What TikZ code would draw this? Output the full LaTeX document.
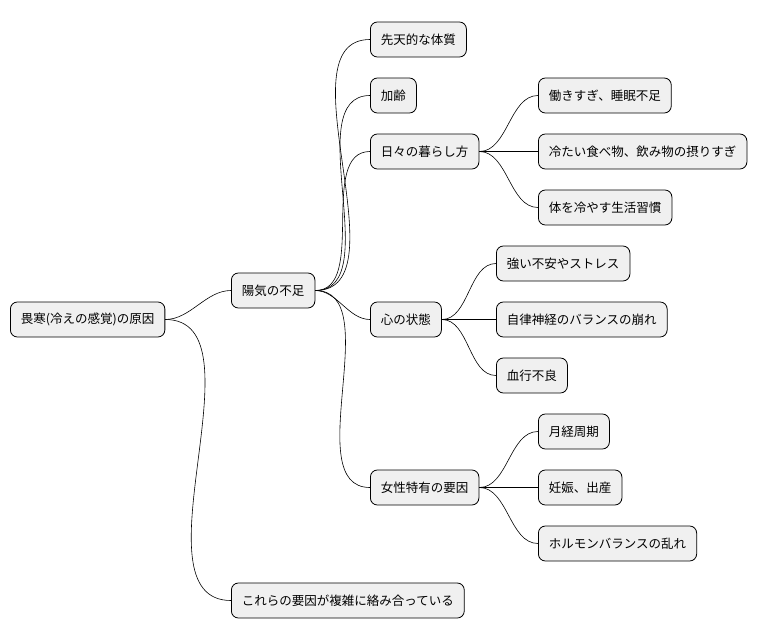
\documentclass[tikz,border=0pt]{standalone}
\usepackage{fontspec}
\setmainfont{Noto Sans CJK JP}
\begin{document}
\begin{tikzpicture}[x=1pt,y=-1pt,
  box/.style={draw=black,line width=0.8pt,fill=black!6,rounded corners=7pt,minimum height=35pt,inner xsep=10.5pt,anchor=west,font=\fontsize{12.5}{14}\selectfont},
  conn/.style={draw=black,line width=0.6pt,out=0,in=180,looseness=0.9}]
\useasboundingbox (0,0) rectangle (779,640);
\node[box] (r) at (10,319.5) {畏寒(冷えの感覚)の原因};
\node[box] (y) at (231,290.5) {陽気の不足};
\node[box] (k) at (231,600.5) {これらの要因が複雑に絡み合っている};
\node[box] (a1) at (370,39.5) {先天的な体質};
\node[box] (a2) at (370,95.5) {加齢};
\node[box] (a3) at (370,151.5) {日々の暮らし方};
\node[box] (a4) at (370,319.5) {心の状態};
\node[box] (a5) at (370,487.5) {女性特有の要因};
\node[box] (b1) at (538,95.5) {働きすぎ、睡眠不足};
\node[box] (b2) at (538,151.5) {冷たい食べ物、飲み物の摂りすぎ};
\node[box] (b3) at (538,207.5) {体を冷やす生活習慣};
\node[box] (c1) at (496,263.5) {強い不安やストレス};
\node[box] (c2) at (496,319.5) {自律神経のバランスの崩れ};
\node[box] (c3) at (496,375.5) {血行不良};
\node[box] (d1) at (538,431.5) {月経周期};
\node[box] (d2) at (538,487.5) {妊娠、出産};
\node[box] (d3) at (538,543.5) {ホルモンバランスの乱れ};
\foreach \p/\c in {r/y,r/k,y/a1,y/a2,y/a3,y/a4,y/a5,a3/b1,a3/b2,a3/b3,a4/c1,a4/c2,a4/c3,a5/d1,a5/d2,a5/d3}
  \draw[conn] (\p.east) to (\c.west);
\end{tikzpicture}
\end{document}
